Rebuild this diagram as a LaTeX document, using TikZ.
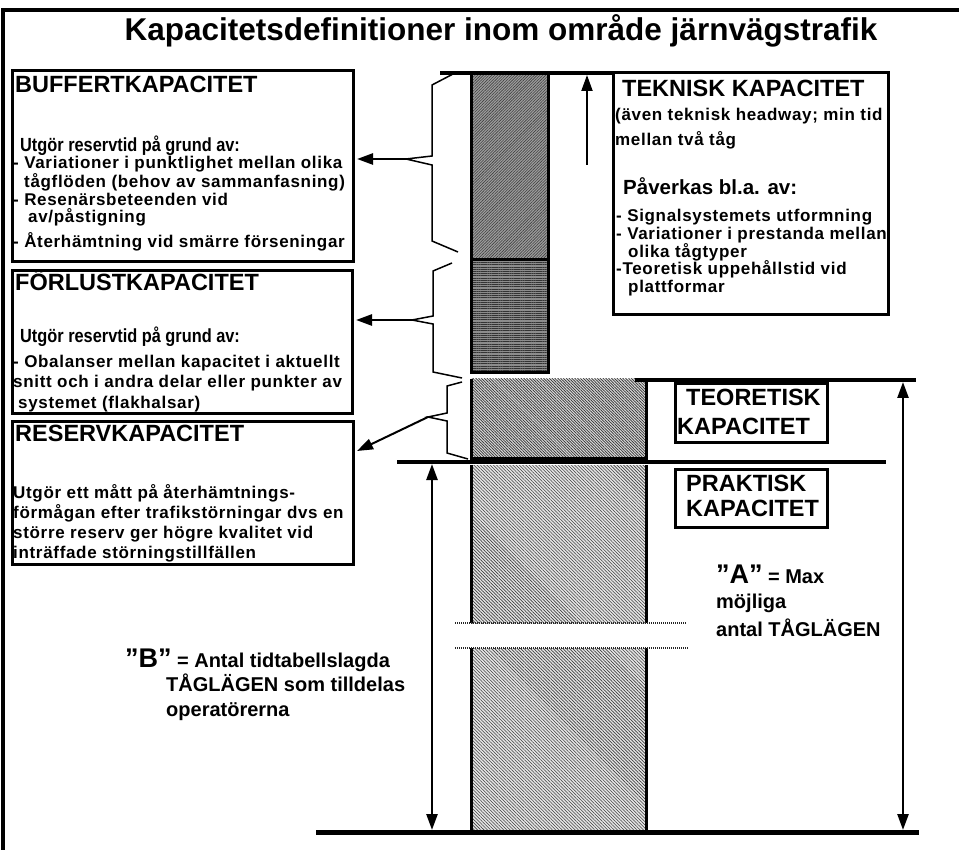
\documentclass[tikz,border=0pt]{standalone}
\usepackage{fontspec}
\setmainfont{Liberation Sans}
\newfontfamily\narrowsans{Liberation Sans}[FakeStretch=0.86]
\newfontfamily\spacedsans{Liberation Sans}[LetterSpace=4]
\usetikzlibrary{arrows.meta,patterns.meta}
\tikzset{
  frameline/.style={line width=4.5pt},
  capbox/.style={draw, line width=3pt, anchor=north west, inner sep=0pt, outer sep=0pt},
  rule/.style={line width=4pt},
  colborder/.style={line width=3pt},
  bracel/.style={line width=1.5pt, line join=miter},
  arrowto/.style={line width=2.5pt, -{Triangle[length=16pt,width=11pt]}},
  dblarrow/.style={line width=2.5pt, {Triangle[length=16pt,width=11pt]}-{Triangle[length=16pt,width=11pt]}},
  ttl/.style={anchor=base, inner sep=0pt, font=\bfseries\fontsize{31.5}{36}\selectfont},
  hdr/.style={anchor=base west, inner sep=0pt, font=\bfseries\fontsize{23.5}{27}\selectfont},
  lead/.style={anchor=base west, inner sep=0pt, font=\narrowsans\bfseries\fontsize{19}{22}\selectfont},
  leadwide/.style={anchor=base west, inner sep=0pt, font=\bfseries\fontsize{20.5}{23}\selectfont},
  bodyt/.style={anchor=base west, inner sep=0pt, font=\spacedsans\bfseries\fontsize{17}{19}\selectfont},
  lbl/.style={anchor=base west, inner sep=0pt, font=\bfseries\fontsize{20}{23}\selectfont},
  biglbl/.style={anchor=base west, inner sep=0pt, font=\bfseries\fontsize{27}{30}\selectfont},
  dotl/.style={line width=1.3pt, dash pattern=on 1pt off 1pt, black!85},
}
\begin{document}
\begin{tikzpicture}[x=1pt,y=-1pt]
\useasboundingbox (0,0) rectangle (959,850);
% frame
\draw[frameline] (959,10) -- (3,10) -- (3,850);
% title
\node[ttl] (title) at (501,41) {Kapacitetsdefinitioner inom område järnvägstrafik};

% column sections
\path[preaction={fill=black!38}, pattern={Lines[angle=45,distance=2pt,line width=0.6pt]}, pattern color=black!75]
  (471,73) rectangle (548,259);
\path[preaction={fill=black!45}, pattern={Lines[angle=0,distance=2.2pt,line width=0.8pt]}, pattern color=black!80]
  (471,260) rectangle (548,373);
\path[preaction={fill=black!15}, pattern={Lines[angle=-45,distance=2pt,line width=0.7pt]}, pattern color=black!80]
  (471,379) rectangle (646,458);
\path[preaction={fill=black!10}, pattern={Lines[angle=-45,distance=2.3pt,line width=0.6pt]}, pattern color=black!75]
  (471,465) rectangle (646,623);
\path[preaction={fill=black!10}, pattern={Lines[angle=-45,distance=2.3pt,line width=0.6pt]}, pattern color=black!75]
  (471,648) rectangle (646,832);
% column borders
\draw[colborder] (471,73) -- (471,373) -- (548,373) -- (548,73);
\draw[line width=3.5pt] (471,259.5) -- (548,259.5);
\draw[colborder] (471,379) -- (471,458) -- (646,458) -- (646,379);
\draw[colborder] (471,465) -- (471,623);
\draw[colborder] (646,465) -- (646,623);
\draw[colborder] (471,648) -- (471,832);
\draw[colborder] (646,648) -- (646,832);
% gap dotted lines
\coordinate (g1l) at (455,623); \coordinate (g1r) at (687,623);
\coordinate (g2l) at (455,648); \coordinate (g2r) at (689,648);
\draw[dotl] (g1l) -- (g1r);
\draw[dotl] (g2l) -- (g2r);

% boxes
\node[capbox, minimum width=341pt, minimum height=191pt] (buf) at (12,71) {};
\node[capbox, minimum width=340pt, minimum height=142pt] (forl) at (12,271) {};
\node[capbox, minimum width=341pt, minimum height=143pt] (res) at (12,421) {};
\node[capbox, minimum width=275pt, minimum height=242pt] (tek) at (613,73) {};
\node[capbox, minimum width=152pt, minimum height=58pt] (teo) at (675,384) {};
\node[capbox, minimum width=152pt, minimum height=58pt] (pra) at (675,469) {};

% horizontal rules
\coordinate (topL) at (440,73);
\draw[rule] (topL) -- (tek.north west);
\coordinate (teoL) at (635,380); \coordinate (teoR) at (916,380);
\draw[rule] (teoL) -- (teoR);
\coordinate (praL) at (397,462); \coordinate (praR) at (886,462);
\draw[rule] (praL) -- (praR);
\coordinate (botL) at (316,832); \coordinate (botR) at (919,832);
\draw[line width=5pt] (botL) -- (botR);

% braces
\coordinate (b1) at (406,159);
\draw[bracel] (453,74) -- (432,85) -- (432,156) -- (b1) -- (432,165) -- (432,241) -- (458,252);
\coordinate (b2) at (412,320);
\draw[bracel] (452,263) -- (433,271) -- (433,316) -- (b2) -- (433,324) -- (433,372) -- (462,378);
\coordinate (b3) at (428,417);
\draw[bracel] (462,382) -- (447,386) -- (447,413) -- (b3) -- (447,421) -- (447,453) -- (468,459);

% arrows from braces to boxes
\draw[arrowto, shorten >=4pt] (b1) -- (buf.east |- b1);
\draw[arrowto, shorten >=4pt] (b2) -- (forl.east |- b2);
\coordinate (r3) at (357,451);
\draw[arrowto, line width=2pt] (b3) -- (r3);

% vertical arrows
\coordinate (tekA0) at (587,165); \coordinate (tekA1) at (587,75);
\draw[arrowto, line width=2pt] (tekA0) -- (tekA1);
\coordinate (A0) at (903,382); \coordinate (A1) at (903,830);
\draw[dblarrow] (A0) -- (A1);
\coordinate (B0) at (432,464); \coordinate (B1) at (432,830);
\draw[dblarrow] (B0) -- (B1);

% BUFFERT texts
\node[hdr] (bufh) at (15,93) {BUFFERTKAPACITET};
\node[lead] (bufl) at (20,152) {Utgör reservtid på grund av:};
\node[bodyt] (buf1) at (13,169) {- Variationer i punktlighet mellan olika};
\node[bodyt] (buf2) at (24,188) {tågflöden (behov av sammanfasning)};
\node[bodyt] (buf3) at (13,206) {- Resenärsbeteenden vid};
\node[bodyt] (buf4) at (28,223) {av/påstigning};
\node[bodyt] (buf5) at (13,248) {- Återhämtning vid smärre förseningar};
% FORLUST texts
\node[hdr] (forh) at (15,291) {FÖRLUSTKAPACITET};
\node[lead] (forla) at (20,343) {Utgör reservtid på grund av:};
\node[bodyt] (for1) at (13,367) {- Obalanser mellan kapacitet i aktuellt};
\node[bodyt] (for2) at (13,388) {snitt och i andra delar eller punkter av};
\node[bodyt] (for3) at (18,408) {systemet (flakhalsar)};
% RESERV texts
\node[hdr] (resh) at (15,441) {RESERVKAPACITET};
\node[bodyt] (res1) at (13,498) {Utgör ett mått på återhämtnings-};
\node[bodyt] (res2) at (13,518) {förmågan efter trafikstörningar dvs en};
\node[bodyt] (res3) at (13,538) {större reserv ger högre kvalitet vid};
\node[bodyt] (res4) at (13,558) {inträffade störningstillfällen};
% TEKNISK texts
\node[hdr] (tekh) at (622,97) {TEKNISK KAPACITET};
\node[bodyt] (tek1) at (615,121) {(även teknisk headway; min tid};
\node[bodyt] (tek2) at (615,146) {mellan två tåg};
\node[leadwide] (tekl) at (623,195) {Påverkas bl.a. av:};
\node[bodyt] (tek3) at (616,222) {- Signalsystemets utformning};
\node[bodyt] (tek4) at (616,240) {- Variationer i prestanda mellan};
\node[bodyt] (tek5) at (628,257.5) {olika tågtyper};
\node[bodyt] (tek6) at (616,275) {-Teoretisk uppehållstid vid};
\node[bodyt] (tek7) at (628,292.5) {plattformar};
% TEORETISK / PRAKTISK
\node[hdr] (teo1) at (686,406) {TEORETISK};
\node[hdr] (teo2) at (677,435) {KAPACITET};
\node[hdr] (pra1) at (686,491) {PRAKTISK};
\node[hdr] (pra2) at (686,516) {KAPACITET};
% A label
\node[biglbl] (Aq) at (716,583) {”A”};
\node[lbl, anchor=base west] (Am) at ([xshift=5pt]Aq.base east) {= Max};
\node[lbl] (A2) at (716,608) {möjliga};
\node[lbl] (A3) at (716,636) {antal TÅGLÄGEN};
% B label
\node[biglbl] (Bq) at (125,667) {”B”};
\node[lbl, anchor=base west] (Bm) at ([xshift=5pt]Bq.base east) {= Antal tidtabellslagda};
\node[lbl] (B2) at (166,691) {TÅGLÄGEN som tilldelas};
\node[lbl] (B3) at (166,716) {operatörerna};
\end{tikzpicture}
\end{document}
